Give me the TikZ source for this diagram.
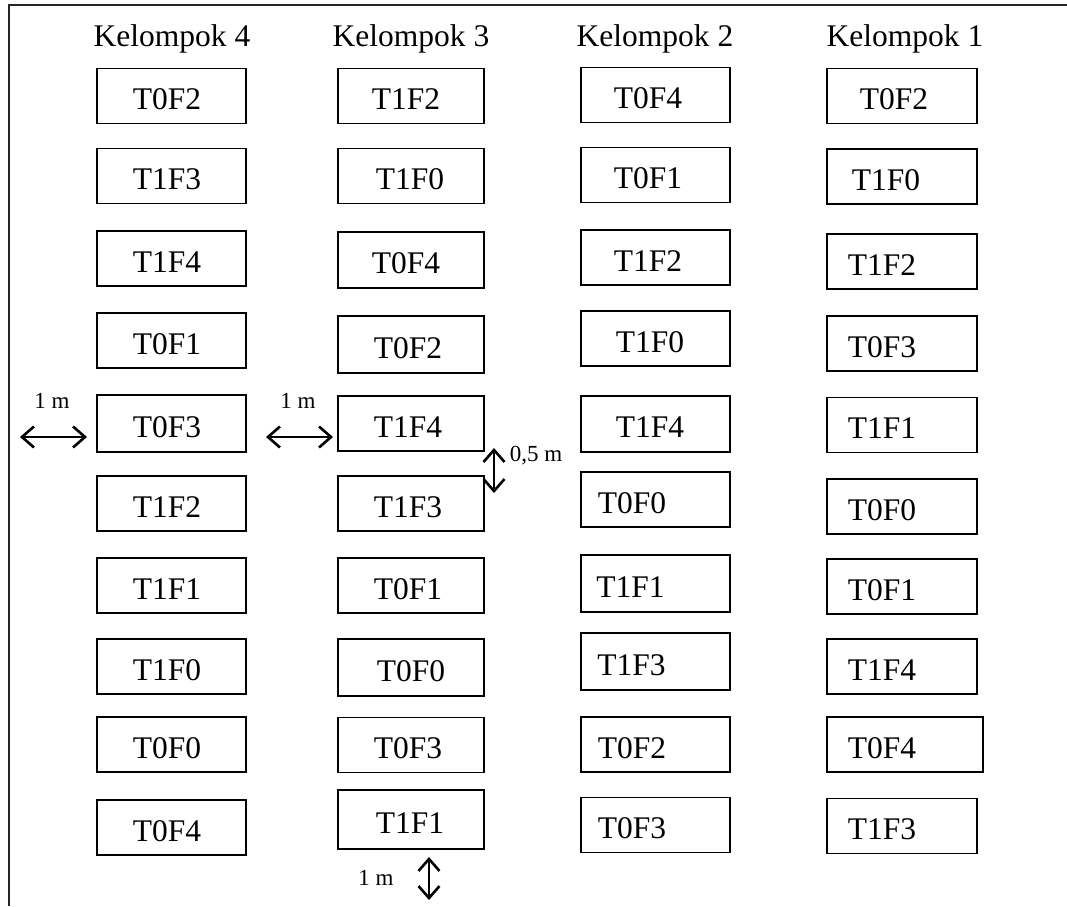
\documentclass[tikz,border=0pt]{standalone}
\usepackage{fontspec}
\setmainfont{Liberation Serif}
\usetikzlibrary{arrows.meta}
\newcommand\shft[2]{\hspace*{#1pt}#2}
\tikzset{
  plot/.style={draw=black, line width=1.5pt, minimum height=55pt, minimum width=149pt, inner sep=0pt, text height=27pt, text depth=0pt, font=\fontsize{31.5}{36}\selectfont},
  head/.style={inner sep=0pt, anchor=base, font=\fontsize{31.5}{36}\selectfont},
  small/.style={inner sep=0pt, font=\fontsize{23}{26}\selectfont},
  barb/.tip={Straight Barb[length=12pt 0, width=21pt 0, line width=2.6pt]},
  dim/.style={line width=2pt, barb-barb},
  frame/.style={line width=2pt, draw=black!85}
}
\begin{document}
\begin{tikzpicture}[x=1pt,y=-1pt]
\useasboundingbox (0,0) rectangle (1067,906);
\coordinate (f1) at (1067,5);
\coordinate (f2) at (8.5,5);
\coordinate (f3) at (8.5,906);
\draw[frame] (f1) -- (f2) -- (f3);
% headings
\node[head] (h4) at (172,46) {Kelompok 4};
\node[head] (h3) at (411,46) {Kelompok 3};
\node[head] (h2) at (655,46) {Kelompok 2};
\node[head] (h1) at (905,46) {Kelompok 1};
% column 4
\node[plot] (a1) at (171.5,96) {\shft{-9}{T0F2}};
\node[plot] (a2) at (171.5,176) {\shft{-9}{T1F3}};
\node[plot] (a3) at (171.5,258.5) {\shft{-9}{T1F4}};
\node[plot] (a4) at (171.5,340.5) {\shft{-9}{T0F1}};
\node[plot, minimum height=57pt] (a5) at (171.5,423.5) {\shft{-9}{T0F3}};
\node[plot] (a6) at (171.5,503.5) {\shft{-9}{T1F2}};
\node[plot] (a7) at (171.5,585.5) {\shft{-9}{T1F1}};
\node[plot] (a8) at (171.5,666.5) {\shft{-9}{T1F0}};
\node[plot] (a9) at (171.5,744.5) {\shft{-9}{T0F0}};
\node[plot] (a10) at (171.5,827.5) {\shft{-9}{T0F4}};
% column 3
\node[plot, minimum width=146pt] (b1) at (411,96) {\shft{-10}{T1F2}};
\node[plot, minimum width=146pt] (b2) at (411,176) {\shft{-2}{T1F0}};
\node[plot, minimum width=146pt, minimum height=56pt] (b3) at (411,260) {\shft{-10}{T0F4}};
\node[plot, minimum width=146pt, minimum height=57pt] (b4) at (411,344.5) {\shft{-6}{T0F2}};
\node[plot, minimum width=146pt] (b5) at (411,423.5) {\shft{-6}{T1F4}};
\node[plot, minimum width=146pt] (b6) at (411,503.5) {\shft{-6}{T1F3}};
\node[plot, minimum width=146pt] (b7) at (411,585.5) {\shft{-6}{T0F1}};
\node[plot, minimum width=146pt, minimum height=57pt] (b8) at (411,667.5) {\shft{0}{T0F0}};
\node[plot, minimum width=146pt] (b9) at (411,745) {\shft{-6}{T0F3}};
\node[plot, minimum width=146pt, minimum height=59pt] (b10) at (411,819.5) {\shft{-2}{T1F1}};
% column 2
\node[plot] (c1) at (655.5,95) {\shft{-15}{T0F4}};
\node[plot] (c2) at (655.5,175) {\shft{-15}{T0F1}};
\node[plot] (c3) at (655.5,257.5) {\shft{-15}{T1F2}};
\node[plot] (c4) at (655.5,338.5) {\shft{-11}{T1F0}};
\node[plot, minimum height=56pt] (c5) at (655.5,424) {\shft{-11}{T1F4}};
\node[plot] (c6) at (655.5,499.5) {\shft{-47}{T0F0}};
\node[plot, minimum height=57pt] (c7) at (655.5,583.5) {\shft{-50}{T1F1}};
\node[plot, minimum height=57pt] (c8) at (655.5,661.5) {\shft{-48}{T1F3}};
\node[plot] (c9) at (655.5,744.5) {\shft{-47}{T0F2}};
\node[plot] (c10) at (655.5,825) {\shft{-47}{T0F3}};
% column 1
\node[plot, minimum width=150pt] (d1) at (902,96) {\shft{-16}{T0F2}};
\node[plot, minimum width=150pt] (d2) at (902,176.5) {\shft{-32}{T1F0}};
\node[plot, minimum width=150pt] (d3) at (902,261.5) {\shft{-40}{T1F2}};
\node[plot, minimum width=150pt] (d4) at (902,343.5) {\shft{-40}{T0F3}};
\node[plot, minimum width=150pt] (d5) at (902,425) {\shft{-40}{T1F1}};
\node[plot, minimum width=150pt] (d6) at (902,506.5) {\shft{-40}{T0F0}};
\node[plot, minimum width=150pt] (d7) at (902,586.5) {\shft{-40}{T0F1}};
\node[plot, minimum width=150pt] (d8) at (902,666.5) {\shft{-40}{T1F4}};
\node[plot, minimum width=156pt] (d9) at (905,744.5) {\shft{-46}{T0F4}};
\node[plot, minimum width=150pt] (d10) at (902,826) {\shft{-40}{T1F3}};
% dimension arrows
\coordinate (p1) at (20,437);
\coordinate (p2) at (87,437);
\draw[dim] (p1) -- (p2);
\node[small] (l1) at (52,401) {1 m};
\coordinate (q1) at (266,437);
\coordinate (q2) at (333,437);
\draw[dim] (q1) -- (q2);
\node[small] (l2) at (298,401) {1 m};
\coordinate (r1) at (494,448);
\coordinate (r2) at (494,493);
\draw[dim] (r1) -- (r2);
\node[small] (l3) at (536,456) {0,5 m};
\coordinate (s1) at (429,857);
\coordinate (s2) at (429,900);
\draw[dim] (s1) -- (s2);
\node[small] (l4) at (376,878) {1 m};
\end{tikzpicture}
\end{document}
